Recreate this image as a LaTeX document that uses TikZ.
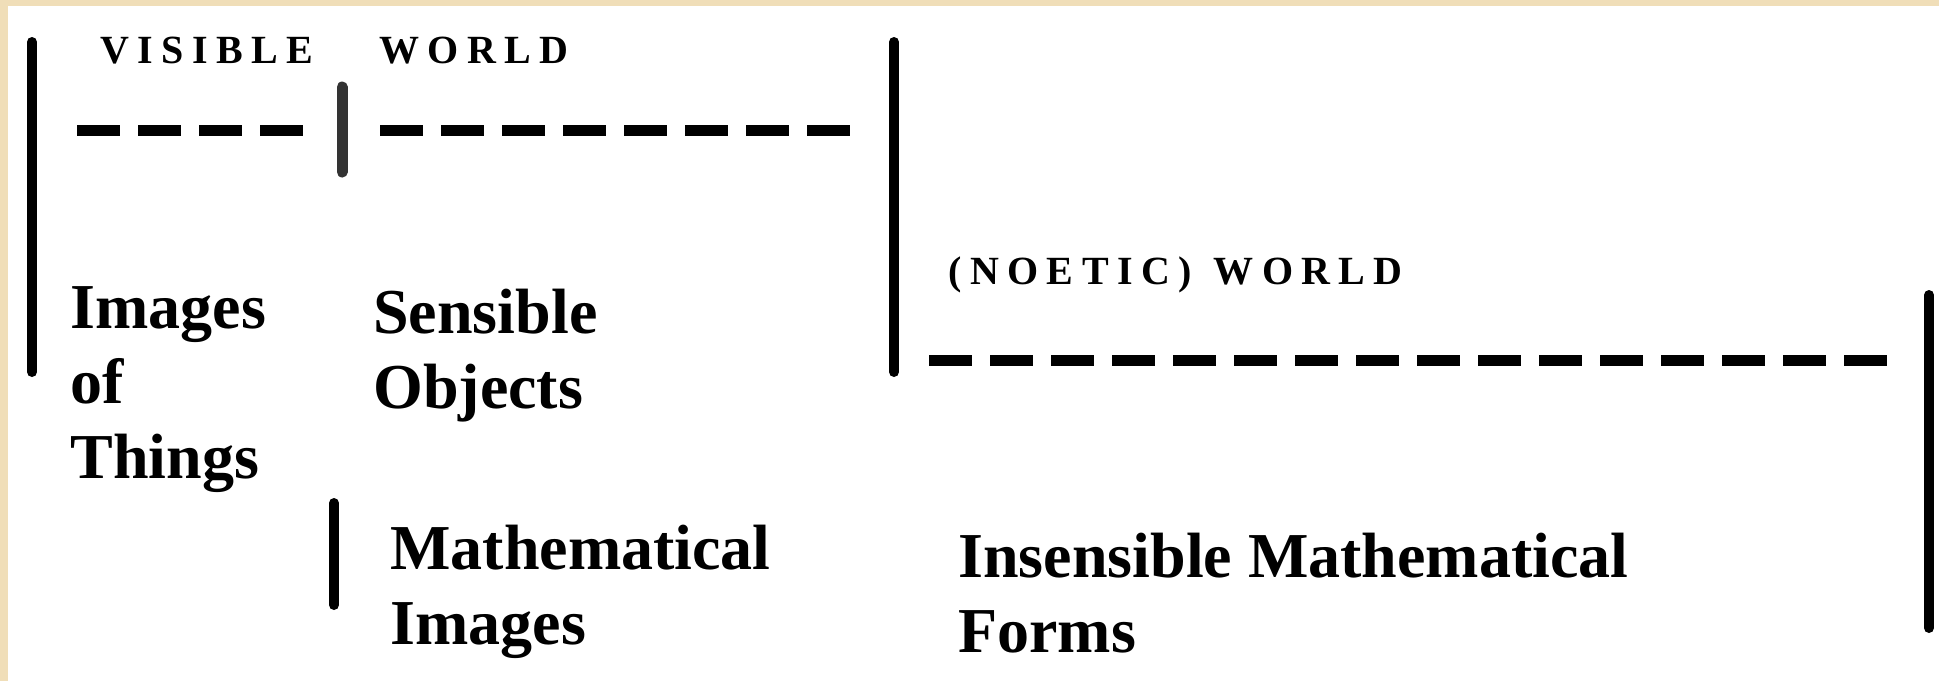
\documentclass[tikz,border=0pt]{standalone}
\usepackage{fontspec}
\setmainfont{Liberation Serif}
\definecolor{parchment}{RGB}{240,222,184}
\begin{document}
\begin{tikzpicture}[x=0.5pt,y=-0.5pt,
    bar/.style={line width=5pt, line cap=round},
    dashrow/.style={line width=5.5pt, dash pattern=on 21.5pt off 9pt},
    heading/.style={inner sep=0pt, anchor=base west, font=\fontsize{20}{22}\selectfont\bfseries\addfontfeature{LetterSpace=21}},
    term/.style={inner sep=0pt, anchor=base west, align=left, font=\fontsize{32}{37.5}\selectfont\bfseries}]

    \useasboundingbox (0,0) rectangle (1939,681);
    \fill[parchment] (0,0) rectangle (1939,681);
    \fill[white] (8,6) rectangle (1939,681);

    % dividing bars
    \coordinate (VisTop) at (32,42);
    \coordinate (VisBot) at (32,372);
    \coordinate (MidTop) at (894,42);
    \coordinate (MidBot) at (894,372);
    \coordinate (SplitTop) at (342,87);
    \coordinate (SplitBot) at (342,172);
    \coordinate (MathTop) at (334,503);
    \coordinate (MathBot) at (334,605);
    \coordinate (IntTop) at (1929,295);
    \coordinate (IntBot) at (1929,628);

    \draw[bar] (VisTop) -- (VisBot);
    \draw[bar] (MidTop) -- (MidBot);
    \draw[bar, black!80, line width=5.5pt] (SplitTop) -- (SplitBot);
    \draw[bar] (MathTop) -- (MathBot);
    \draw[bar] (IntTop) -- (IntBot);

    % dashed lines
    \coordinate (ImgL) at (77,130);
    \coordinate (ImgR) at (303,130);
    \coordinate (ObjL) at (380,130);
    \coordinate (ObjR) at (850,130);
    \coordinate (FormL) at (929,360);
    \coordinate (FormR) at (1887,360);

    \draw[dashrow] (ImgL) -- (ImgR);
    \draw[dashrow] (ObjL) -- (ObjR);
    \draw[dashrow] (FormL) -- (FormR);

    % headings
    \node[heading] (visible) at (100,63) {VISIBLE\hspace{33pt}WORLD};
    \node[heading] (noetic) at (948,284) {(NOETIC)\hspace{11pt}WORLD};

    % terms (anchored at the baseline of the last line)
    \node[term] (images) at (70,478) {Images\\of\\Things};
    \node[term] (sensible) at (373,408) {Sensible\\Objects};
    \node[term] (mathimg) at (390,644) {Mathematical\\Images};
    \node[term] (forms) at (958,652) {Insensible Mathematical\\Forms};

\end{tikzpicture}
\end{document}
